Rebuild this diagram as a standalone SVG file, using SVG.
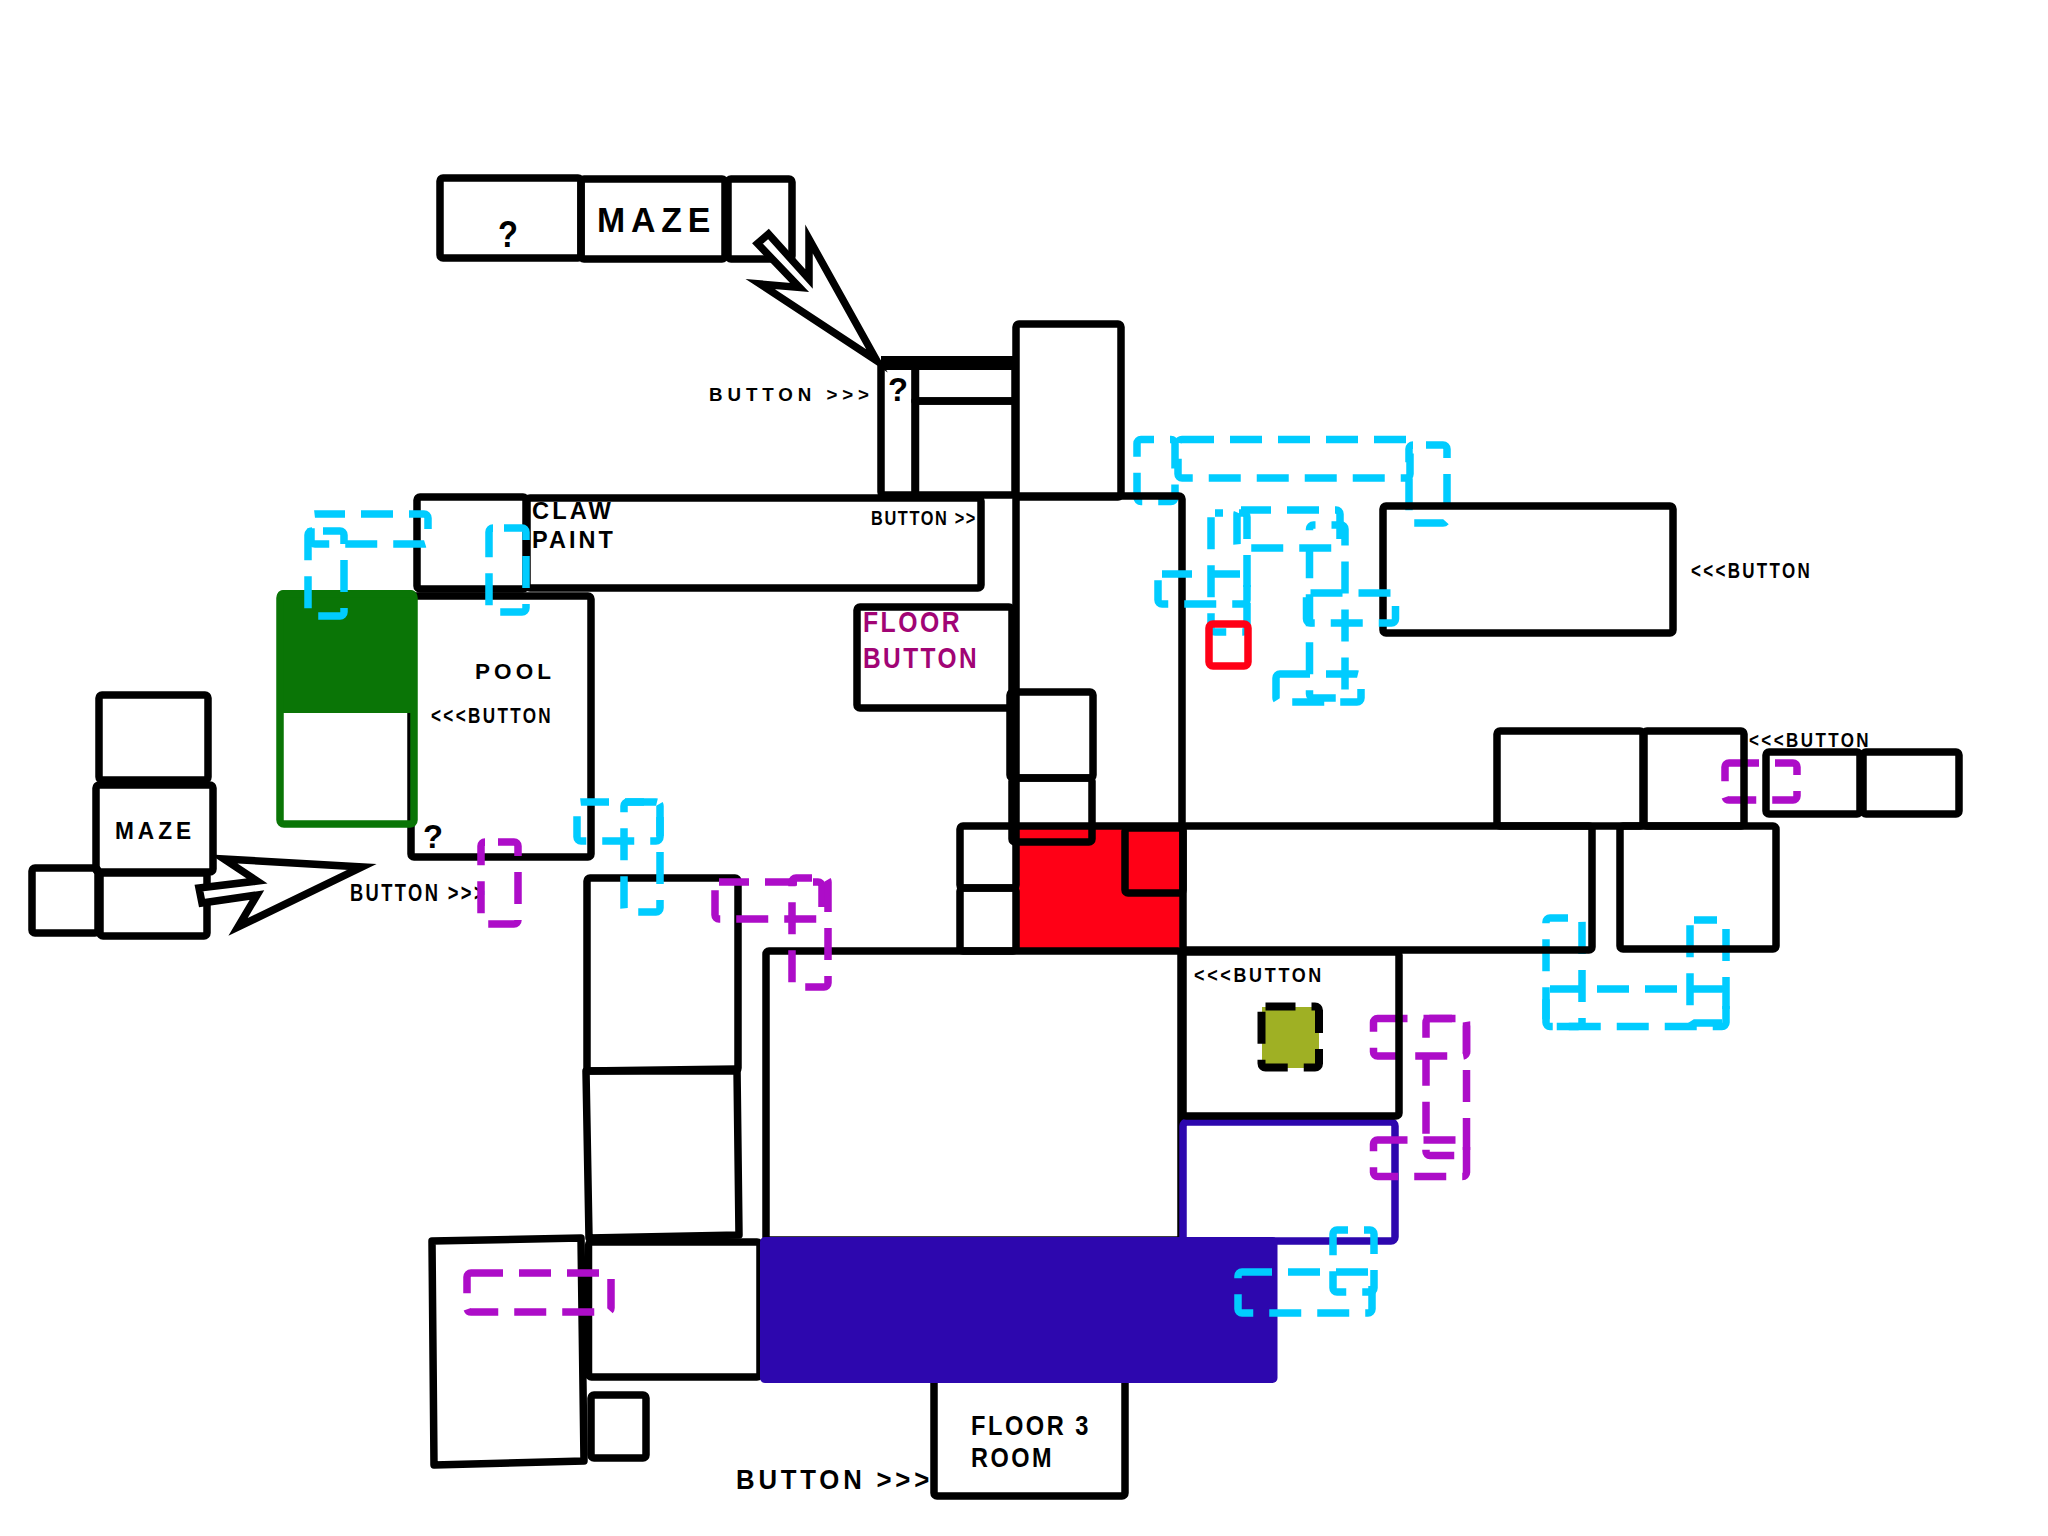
<svg xmlns="http://www.w3.org/2000/svg" width="2048" height="1536" viewBox="0 0 2048 1536">
<style>
.r{fill:none;stroke:#000;stroke-width:7.500;stroke-linejoin:round}
.t{font-family:"Liberation Sans",Arial,sans-serif;font-weight:bold;fill:#000}
.tp{fill:#a10475}
.c{fill:none;stroke:#00ccff;stroke-width:7.500;stroke-dasharray:32 16}
.p{fill:none;stroke:#ad0dc8;stroke-width:7.500;stroke-dasharray:32 16}
.a{fill:#fff;stroke:#000;stroke-width:7.500;stroke-miterlimit:10}
</style>
<rect width="2048" height="1536" fill="#fff"/>
<g id="under">
<rect x="1016" y="826" width="165" height="127" fill="#ff0016"/>
<rect class="c" x="1137" y="439.500" width="38" height="62" rx="4" stroke-dashoffset="19"/>
<rect class="c" x="1409" y="445" width="38" height="78" rx="4" stroke-dashoffset="35"/>
<rect class="c" x="1546" y="918" width="36" height="108.500" rx="4" stroke-dashoffset="14"/>
<rect class="c" x="1690" y="920" width="36" height="103" rx="4" stroke-dashoffset="9"/>
<rect class="p" x="1725" y="763" width="72" height="37" rx="4" stroke-dashoffset="2"/>
<rect class="p" x="1373.500" y="1018.500" width="93" height="37.500" rx="4" stroke-dashoffset="2"/>
</g>
<g id="rooms">
<g id="top-q"><rect class="r" x="440" y="178" width="141" height="80" rx="3"/><text class="t" x="498" y="247" font-size="36" textLength="20" lengthAdjust="spacingAndGlyphs">?</text></g>
<g id="top-maze"><rect class="r" x="581" y="179" width="144" height="80" rx="3"/><text class="t" x="597" y="232" font-size="35" letter-spacing="6" textLength="119" lengthAdjust="spacingAndGlyphs">MAZE</text></g>
<g id="top-box"><rect class="r" x="728" y="179" width="64" height="80" rx="3"/></g>
<g id="q-tall"><rect class="r" x="881" y="363" width="34.500" height="132" rx="3"/><text class="t" x="888" y="401" font-size="34" textLength="20" lengthAdjust="spacingAndGlyphs">?</text><text class="t" x="709" y="401" font-size="19" letter-spacing="5" textLength="165" lengthAdjust="spacingAndGlyphs">BUTTON &gt;&gt;&gt;</text></g>
<g id="q-upper"><rect class="r" x="915" y="363" width="100" height="38"/><line x1="881" y1="363" x2="1015" y2="363" stroke="#000" stroke-width="14"/></g>
<g id="q-lower"><rect class="r" x="915" y="401" width="100" height="94"/></g>
<g id="tall"><rect class="r" x="1016" y="324" width="105" height="173" rx="3"/></g>
<g id="claw-box"><rect class="r" x="417" y="497" width="109" height="92" rx="3"/></g>
<g id="claw-paint"><rect class="r" x="527" y="498" width="454" height="90" rx="3"/><text class="t" x="532" y="519" font-size="23" letter-spacing="3" textLength="82" lengthAdjust="spacingAndGlyphs">CLAW</text><text class="t" x="532" y="548" font-size="23" letter-spacing="3" textLength="84" lengthAdjust="spacingAndGlyphs">PAINT</text><text class="t" x="871" y="525" font-size="20" letter-spacing="2" textLength="106" lengthAdjust="spacingAndGlyphs">BUTTON &gt;&gt;</text></g>
<g id="pool"><rect class="r" x="411" y="596" width="180" height="261" rx="3"/><text class="t" x="475" y="679" font-size="22" letter-spacing="4" textLength="80" lengthAdjust="spacingAndGlyphs">POOL</text><text class="t" x="431" y="723" font-size="22" letter-spacing="3" textLength="122" lengthAdjust="spacingAndGlyphs">&lt;&lt;&lt;BUTTON</text><text class="t" x="423" y="848" font-size="34" textLength="20" lengthAdjust="spacingAndGlyphs">?</text></g>
<g id="green"><rect x="277" y="590" width="140" height="123" rx="6" fill="#0a7506"/><rect x="280" y="594" width="134" height="230" rx="4" fill="none" stroke="#0a7506" stroke-width="7.500"/></g>
<g id="left-top"><rect class="r" x="99" y="695" width="109" height="85" rx="3"/></g>
<g id="left-maze"><rect class="r" x="96" y="785" width="117" height="87" rx="3"/><text class="t" x="115" y="839" font-size="23" letter-spacing="4" textLength="80" lengthAdjust="spacingAndGlyphs">MAZE</text></g>
<g id="left-bottom"><rect class="r" x="100" y="873" width="107" height="63" rx="3"/></g>
<g id="left-small"><rect class="r" x="32" y="868" width="66" height="65" rx="3"/></g>
<text class="t" x="350" y="901" font-size="23" letter-spacing="3" textLength="137" lengthAdjust="spacingAndGlyphs">BUTTON &gt;&gt;&gt;</text>
<g id="w1"><rect class="r" x="587" y="878" width="151" height="193" rx="3"/></g>
<g id="w2"><polygon class="r" points="586,1071 737,1069 739,1235 589,1238"/></g>
<g id="w3"><rect class="r" x="588.500" y="1242" width="171.500" height="135" rx="3"/></g>
<g id="w4"><polygon class="r" points="432,1241 581,1238 584,1461 434,1465"/></g>
<g id="w5"><rect class="r" x="591" y="1395" width="55" height="63" rx="3"/></g>
<g id="floor3"><rect class="r" x="934" y="1375" width="191" height="121" rx="3"/><text class="t" x="971" y="1435" font-size="28" letter-spacing="3" textLength="120" lengthAdjust="spacingAndGlyphs">FLOOR 3</text><text class="t" x="971" y="1467" font-size="28" letter-spacing="3" textLength="83" lengthAdjust="spacingAndGlyphs">ROOM</text><text class="t" x="736" y="1489" font-size="27" letter-spacing="4" textLength="197" lengthAdjust="spacingAndGlyphs">BUTTON &gt;&gt;&gt;</text></g>
<g id="big-center"><rect class="r" x="766" y="951" width="415" height="289" rx="3"/></g>
<g id="blue-room"><rect x="1183" y="1122" width="212" height="119" rx="4" fill="none" stroke="#2d07ae" stroke-width="7.500"/></g>
<g id="blue-fill"><rect x="760" y="1237" width="517.500" height="146" rx="5" fill="#2d07ae"/></g>
<g id="long"><rect class="r" x="1183" y="826" width="409" height="124" rx="3"/></g>
<g id="button-room"><rect class="r" x="1183" y="952" width="216" height="164" rx="3"/><text class="t" x="1194" y="982" font-size="20" letter-spacing="3" textLength="130" lengthAdjust="spacingAndGlyphs">&lt;&lt;&lt;BUTTON</text></g>
<g id="olive"><rect x="1262" y="1007" width="57" height="61" fill="#9fb024"/><rect x="1261.500" y="1006.500" width="57.500" height="61" rx="4" fill="none" stroke="#000" stroke-width="8" stroke-dasharray="32 16" stroke-dashoffset="2"/></g>
<g id="right-room"><rect class="r" x="1620" y="826" width="156" height="123" rx="3"/></g>
<g id="r1"><rect class="r" x="1497" y="731" width="146" height="95" rx="3"/></g>
<g id="r2"><rect class="r" x="1644" y="731" width="100" height="95" rx="3"/><text class="t" x="1749" y="747" font-size="21" letter-spacing="3" textLength="122" lengthAdjust="spacingAndGlyphs">&lt;&lt;&lt;BUTTON</text></g>
<g id="r3"><rect class="r" x="1766" y="752" width="94" height="62" rx="3"/></g>
<g id="r4"><rect class="r" x="1863" y="752" width="96" height="62" rx="3"/></g>
<g id="red-box"><rect class="r" x="1125" y="828" width="58" height="65" rx="3"/></g>
<g id="center-tall"><rect class="r" x="1016" y="496" width="166" height="330" rx="3"/></g>
<g id="s1"><rect class="r" x="960" y="826" width="56" height="62" rx="3"/></g>
<g id="s2"><rect class="r" x="960" y="888" width="56" height="63" rx="3"/></g>
<g id="b1"><rect class="r" x="1010" y="692" width="83" height="86" rx="3"/></g>
<g id="b2"><rect class="r" x="1012" y="778" width="80" height="64" rx="3"/></g>
<g id="floor-button"><rect class="r" x="857" y="607" width="155" height="101" rx="3"/><text class="t tp" x="863" y="632" font-size="30" letter-spacing="3" textLength="99" lengthAdjust="spacingAndGlyphs">FLOOR</text><text class="t tp" x="863" y="668" font-size="30" letter-spacing="3" textLength="116" lengthAdjust="spacingAndGlyphs">BUTTON</text></g>
<g id="big-right"><rect class="r" x="1383" y="506" width="290" height="127" rx="3"/><text class="t" x="1691" y="578" font-size="22" letter-spacing="3" textLength="121" lengthAdjust="spacingAndGlyphs">&lt;&lt;&lt;BUTTON</text></g>
</g>
<g id="connectors">
<polygon class="a" points="877,361 809,239 809,279 768.500,234 757.500,243.500 799.500,287.500 760,284"/>
<polygon class="a" points="224,859 362,867 238,927 257,895 202,903 199,888 257,881"/>
</g>
<g id="cyan">
<rect class="c" x="1178" y="439.500" width="232" height="38.500" rx="4"/>
<rect class="c" x="1211" y="513" width="36" height="119" rx="4" stroke-dashoffset="24"/>
<rect class="c" x="1237" y="510" width="103" height="38" rx="4" stroke-dashoffset="2"/>
<rect class="c" x="1309.500" y="525" width="35.500" height="173" rx="4" stroke-dashoffset="30"/>
<rect class="c" x="1306.500" y="593" width="89" height="30" rx="4"/>
<rect class="c" x="1276" y="674" width="85" height="28" rx="4" stroke-dashoffset="2"/>
<rect class="c" x="1158" y="574" width="89" height="30" rx="4" stroke-dashoffset="2"/>
<rect class="c" x="311" y="514" width="117" height="30" rx="4" stroke-dashoffset="2"/>
<rect class="c" x="308" y="531" width="36" height="85" rx="4" stroke-dashoffset="37"/>
<rect class="c" x="489" y="528" width="37" height="84" rx="4" stroke-dashoffset="37"/>
<rect class="c" x="577" y="802" width="83" height="39" rx="4" stroke-dashoffset="4"/>
<rect class="c" x="624" y="802" width="36" height="110" rx="4" stroke-dashoffset="16"/>
<rect class="c" x="1546" y="989" width="180" height="37.500" rx="4" stroke-dashoffset="1"/>
<rect class="c" x="1238" y="1272" width="134" height="41" rx="4" stroke-dashoffset="2"/>
<rect class="c" x="1333" y="1230" width="41" height="62" rx="4" stroke-dashoffset="21"/>
</g>
<g id="red-small"><rect x="1209" y="624" width="39" height="42" rx="4" fill="none" stroke="#ff0016" stroke-width="7.500"/></g>
<g id="purple">
<rect class="p" x="481" y="842" width="37" height="82" rx="4" stroke-dashoffset="35"/>
<rect class="p" x="715" y="882" width="107" height="37" rx="4" stroke-dashoffset="2"/>
<rect class="p" x="792" y="878" width="36" height="109" rx="4" stroke-dashoffset="16"/>
<rect class="p" x="1426" y="1018.500" width="40.500" height="137" rx="4" stroke-dashoffset="10"/>
<rect class="p" x="1373.500" y="1140" width="93" height="36.500" rx="4" stroke-dashoffset="2"/>
<rect class="p" x="467" y="1273" width="144" height="39" rx="4"/>
</g>
</svg>
